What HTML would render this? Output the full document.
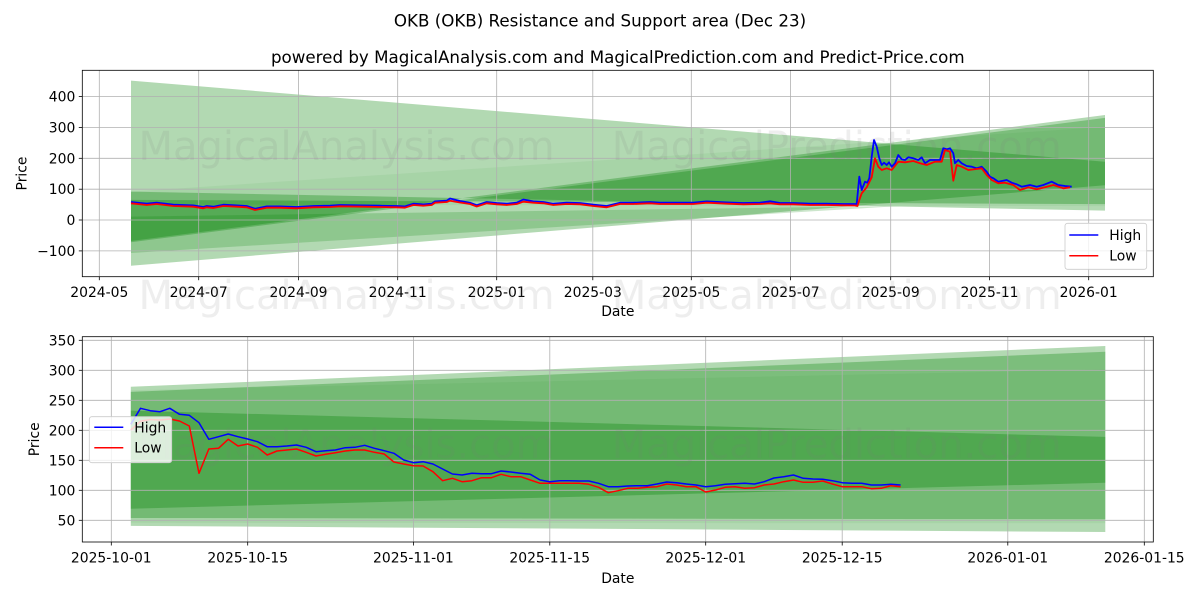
<!DOCTYPE html>
<html>
<head>
<meta charset="utf-8">
<style>
  html,body{margin:0;padding:0;background:#fff;}
  svg{display:block;}
  text{font-family:"DejaVu Sans","Liberation Sans",sans-serif;fill:#000;}
</style>
</head>
<body>
<svg width="1200" height="600" viewBox="0 0 1200 600" xmlns="http://www.w3.org/2000/svg">
  <defs>
    <clipPath id="c1"><rect x="82.3" y="70.3" width="1071" height="206.4"/></clipPath>
    <clipPath id="c2"><rect x="82.3" y="336.7" width="1071" height="205.3"/></clipPath>
  </defs>
  <rect width="1200" height="600" fill="#fff"/>

  <!-- Titles -->
  <text x="600" y="26.7" font-size="16.7" text-anchor="middle">OKB (OKB) Resistance and Support area (Dec 23)</text>
  <text x="617.8" y="63" font-size="16.7" text-anchor="middle">powered by MagicalAnalysis.com and MagicalPrediction.com and Predict-Price.com</text>

  <!-- ============ TOP CHART ============ -->
  <g clip-path="url(#c1)">
    <g fill="#008000" fill-opacity="0.3">
      <polygon points="131,80.6 1105,161.7 1105,185.2 131,265.7"/>
      <polygon points="131,241 1105,115 1105,210.6 131,191.6"/>
      <polygon points="131,242.2 1105,117.9 1105,204.1 131,199.9"/>
    </g>
    <polygon fill="#008000" fill-opacity="0.2" points="131,216.6 900,206 131,253"/>
    <polygon fill="#008000" fill-opacity="0.06" points="131,191.6 1105,126.9 1105,206.1 131,204.6"/>
    <!-- grid -->
    <g stroke="#b0b0b0" stroke-width="0.8">
      <line x1="99.3" y1="70.3" x2="99.3" y2="276.7"/>
      <line x1="198.7" y1="70.3" x2="198.7" y2="276.7"/>
      <line x1="298.5" y1="70.3" x2="298.5" y2="276.7"/>
      <line x1="397.7" y1="70.3" x2="397.7" y2="276.7"/>
      <line x1="496.7" y1="70.3" x2="496.7" y2="276.7"/>
      <line x1="592.8" y1="70.3" x2="592.8" y2="276.7"/>
      <line x1="691.3" y1="70.3" x2="691.3" y2="276.7"/>
      <line x1="790.6" y1="70.3" x2="790.6" y2="276.7"/>
      <line x1="890.7" y1="70.3" x2="890.7" y2="276.7"/>
      <line x1="989.5" y1="70.3" x2="989.5" y2="276.7"/>
      <line x1="1088.7" y1="70.3" x2="1088.7" y2="276.7"/>
      <line x1="82.3" y1="96.6" x2="1153.3" y2="96.6"/>
      <line x1="82.3" y1="127.5" x2="1153.3" y2="127.5"/>
      <line x1="82.3" y1="158.3" x2="1153.3" y2="158.3"/>
      <line x1="82.3" y1="189.2" x2="1153.3" y2="189.2"/>
      <line x1="82.3" y1="220" x2="1153.3" y2="220"/>
      <line x1="82.3" y1="250.9" x2="1153.3" y2="250.9"/>
    </g>
    <!-- watermark -->
    <text x="346.5" y="160" font-size="40" text-anchor="middle" style="fill:#7f7f7f;fill-opacity:0.13">MagicalAnalysis.com</text>
    <text x="836.7" y="160" font-size="40" text-anchor="middle" style="fill:#7f7f7f;fill-opacity:0.13">MagicalPrediction.com</text>
    <!-- price lines -->
    <polyline fill="none" stroke="#0000ff" stroke-width="1.8" stroke-linejoin="round"
      points="131,202 146.7,203.7 156.7,202.7 173.3,204.7 193.3,205.4 203.3,207 206.7,206 213.3,206.7 223.3,204.7 236.7,205.4 246.7,206 255,208.7 266.7,206.4 280,206.4 296.7,207 313.3,206 330,205.7 340,205 363.3,205.4 380,205.7 396.7,206 405,206.4 413.3,203.7 423.3,204.4 431.7,203.7 435,201.4 446.7,200.7 450,198.5 460,201 470,202.7 476.7,205.2 486.7,202 496.7,203 506.7,203.7 516.7,202.7 523.3,199.5 533.3,201.4 543.3,202 553.3,203.7 566.7,202.7 580,203 593.3,204.7 606.7,206 620,202.7 633.3,202.7 650,202 660,202.7 676.7,202.7 693.3,202.7 706.7,201.4 726.7,202.4 743.3,203 760,202.7 770,201.3 780,203 793.3,203 810,203.7 826.7,203.7 843.3,204 856.7,204 859.3,176.7 861.7,190 865,181.7 867.3,182.7 869.3,178.3 871.7,156.7 874,140 876.7,146.7 879.3,158.3 881.7,165 884,162.7 886.7,165 889,162.3 891.7,166.7 895,163.3 898.3,155 901.7,159.3 905,160 908.3,157.3 913.3,158.3 918.3,160 921.7,157.3 925,163.3 930,160 936.7,160 940,160 943.3,148.3 946.7,149.3 950,148.3 953.3,153.3 955,163.3 958.3,160 961.7,163.3 966.7,166 971.7,166.7 976.7,168.3 981.7,166.7 986.7,171.7 990,176.7 993.3,178.3 998.3,181.7 1006.7,180 1011.7,182.7 1016.7,184.3 1021.7,186.7 1030,185 1036.7,186.7 1043.3,185 1051.7,181.7 1058.3,185 1065,186 1071.7,186.7"/>
    <polyline fill="none" stroke="#ff0000" stroke-width="1.8" stroke-linejoin="round"
      points="131,203.3 146.7,205 156.7,204 173.3,206 193.3,206.7 203.3,208.3 206.7,207.3 213.3,208 223.3,206 236.7,206.7 246.7,207.3 255,210 266.7,207.7 280,207.7 296.7,208.3 313.3,207.3 330,207 340,206.3 363.3,206.7 380,207 396.7,207.3 405,207.7 413.3,205 423.3,205.7 431.7,205 435,202.7 446.7,202 450,200.7 460,202.5 470,204 476.7,206.5 486.7,203.3 496.7,204.3 506.7,205 516.7,204 523.3,201.7 533.3,202.7 543.3,203.3 553.3,205 566.7,204 580,204.3 593.3,206 606.7,207.3 620,204 633.3,204 650,203.3 660,204 676.7,204 693.3,204 706.7,202.7 726.7,203.7 743.3,204.3 760,204 770,203.3 780,204.3 793.3,204.3 810,205 826.7,205 843.3,205.3 855,205.5 857.5,206 859.3,200 861.7,193.3 866.7,187.3 871.7,177.3 875,158.3 878.3,166.7 881.7,170 886.7,168.3 891.7,170 898.3,161.7 905,162.3 913.3,161 920,163.3 926.7,165 935,161.7 941.7,161.7 945,150 950,151.7 953.3,180.7 956.7,165 961.7,166.7 968.3,170 976.7,169 981.7,168.3 986.7,175 991.7,180 998.3,183.3 1005,182.7 1013.3,185 1020,190 1028.3,187.3 1036.7,189.3 1045,187.3 1053.3,185 1063.3,188.3 1070,187.3"/>
  </g>
  <!-- axes frame -->
  <rect x="82.3" y="70.3" width="1071" height="206.4" fill="none" stroke="#000" stroke-width="0.8"/>
  <!-- ticks -->
  <g stroke="#000" stroke-width="0.8">
    <line x1="78.8" y1="96.6" x2="82.3" y2="96.6"/>
    <line x1="78.8" y1="127.5" x2="82.3" y2="127.5"/>
    <line x1="78.8" y1="158.3" x2="82.3" y2="158.3"/>
    <line x1="78.8" y1="189.2" x2="82.3" y2="189.2"/>
    <line x1="78.8" y1="220" x2="82.3" y2="220"/>
    <line x1="78.8" y1="250.9" x2="82.3" y2="250.9"/>
    <line x1="99.3" y1="276.7" x2="99.3" y2="280.2"/>
    <line x1="198.7" y1="276.7" x2="198.7" y2="280.2"/>
    <line x1="298.5" y1="276.7" x2="298.5" y2="280.2"/>
    <line x1="397.7" y1="276.7" x2="397.7" y2="280.2"/>
    <line x1="496.7" y1="276.7" x2="496.7" y2="280.2"/>
    <line x1="592.8" y1="276.7" x2="592.8" y2="280.2"/>
    <line x1="691.3" y1="276.7" x2="691.3" y2="280.2"/>
    <line x1="790.6" y1="276.7" x2="790.6" y2="280.2"/>
    <line x1="890.7" y1="276.7" x2="890.7" y2="280.2"/>
    <line x1="989.5" y1="276.7" x2="989.5" y2="280.2"/>
    <line x1="1088.7" y1="276.7" x2="1088.7" y2="280.2"/>
  </g>
  <g font-size="13.9" text-anchor="end">
    <text x="75.3" y="101.6">400</text>
    <text x="75.3" y="132.5">300</text>
    <text x="75.3" y="163.3">200</text>
    <text x="75.3" y="194.2">100</text>
    <text x="75.3" y="225">0</text>
    <text x="75.3" y="255.9">−100</text>
  </g>
  <g font-size="13.9" text-anchor="middle">
    <text x="99.3" y="297">2024-05</text>
    <text x="198.7" y="297">2024-07</text>
    <text x="298.5" y="297">2024-09</text>
    <text x="397.7" y="297">2024-11</text>
    <text x="496.7" y="297">2025-01</text>
    <text x="592.8" y="297">2025-03</text>
    <text x="691.3" y="297">2025-05</text>
    <text x="790.6" y="297">2025-07</text>
    <text x="890.7" y="297">2025-09</text>
    <text x="989.5" y="297">2025-11</text>
    <text x="1088.7" y="297">2026-01</text>
    <text x="617.8" y="316">Date</text>
  </g>
  <text font-size="13.9" text-anchor="middle" transform="translate(26.5,173.5) rotate(-90)">Price</text>
  <!-- legend top -->
  <rect x="1065" y="223.3" width="81.7" height="46" rx="2.5" fill="#fff" fill-opacity="0.8" stroke="#cccccc" stroke-width="0.8"/>
  <line x1="1069.3" y1="235" x2="1098.3" y2="235" stroke="#0000ff" stroke-width="1.5"/>
  <line x1="1069.3" y1="255.7" x2="1098.3" y2="255.7" stroke="#ff0000" stroke-width="1.5"/>
  <text x="1109.3" y="240" font-size="13.9">High</text>
  <text x="1109.3" y="260.7" font-size="13.9">Low</text>

  <!-- middle watermark -->
  <text x="346.5" y="309" font-size="40" text-anchor="middle" style="fill:#7f7f7f;fill-opacity:0.13">MagicalAnalysis.com</text>
  <text x="836.7" y="309" font-size="40" text-anchor="middle" style="fill:#7f7f7f;fill-opacity:0.13">MagicalPrediction.com</text>

  <!-- ============ BOTTOM CHART ============ -->
  <g clip-path="url(#c2)">
    <g fill="#008000" fill-opacity="0.3">
      <polygon points="130.8,410.6 1105.3,436.9 1105.3,482.7 130.8,508.7"/>
      <polygon points="130.8,386.8 1105.3,346 1105.3,532 130.8,525.9"/>
      <polygon points="130.8,391.9 1105.3,351.7 1105.3,519.3 130.8,518"/>
    </g>
    <polygon fill="#008000" fill-opacity="0.06" points="130.8,390.2 1105.3,369.3 1105.3,523.3 130.8,522.8"/>
    <g stroke="#b0b0b0" stroke-width="0.8">
      <line x1="111.3" y1="336.7" x2="111.3" y2="542"/>
      <line x1="247.7" y1="336.7" x2="247.7" y2="542"/>
      <line x1="413.4" y1="336.7" x2="413.4" y2="542"/>
      <line x1="549.8" y1="336.7" x2="549.8" y2="542"/>
      <line x1="705.7" y1="336.7" x2="705.7" y2="542"/>
      <line x1="842.2" y1="336.7" x2="842.2" y2="542"/>
      <line x1="1007.8" y1="336.7" x2="1007.8" y2="542"/>
      <line x1="1144.3" y1="336.7" x2="1144.3" y2="542"/>
      <line x1="82.3" y1="340.3" x2="1153.3" y2="340.3"/>
      <line x1="82.3" y1="370.3" x2="1153.3" y2="370.3"/>
      <line x1="82.3" y1="400.3" x2="1153.3" y2="400.3"/>
      <line x1="82.3" y1="430.3" x2="1153.3" y2="430.3"/>
      <line x1="82.3" y1="460.3" x2="1153.3" y2="460.3"/>
      <line x1="82.3" y1="490.3" x2="1153.3" y2="490.3"/>
      <line x1="82.3" y1="520.3" x2="1153.3" y2="520.3"/>
    </g>
    <text x="346.5" y="458" font-size="40" text-anchor="middle" style="fill:#7f7f7f;fill-opacity:0.13">MagicalAnalysis.com</text>
    <text x="836.7" y="458" font-size="40" text-anchor="middle" style="fill:#7f7f7f;fill-opacity:0.13">MagicalPrediction.com</text>
    <polyline fill="none" stroke="#0000ff" stroke-width="1.5" stroke-linejoin="round"
      points="130.8,424.3 140.5,408.3 150.3,410.7 160,411.7 169.8,408.3 179.5,414.3 189.3,415.3 199,422.7 208.8,439.3 218.5,436.7 228.2,434 238,436.7 247.7,439 257.5,441.7 267.2,446.7 277,446.7 286.7,446 296.5,445 306.2,447.3 316,451.7 325.7,450.7 335.4,450 345.2,447.7 354.9,447.3 364.7,445.3 374.4,448.3 384.2,450.7 393.9,453.3 403.7,460 413.4,462.7 423.1,461.7 432.9,464 442.6,469 452.4,474 462.1,475 471.9,473.3 481.6,473.7 491.4,473.7 501.1,471 510.8,472 520.6,473.3 530.3,474.3 540.1,480 549.8,481.7 559.6,480.7 569.3,480.7 579.1,481 588.8,481 598.6,483.3 608.3,486.7 618,486.7 627.8,486 637.5,485.7 647.3,485.7 657,484 666.8,482 676.5,482.7 686.3,484 696,485 705.7,486.7 715.5,485.7 725.2,484.3 735,483.7 744.7,483.3 754.5,484 764.2,481.7 774,478 783.7,476.7 793.5,475 803.2,478.3 812.9,479 822.7,479.3 832.4,480.7 842.2,482.7 851.9,483.3 861.7,483.3 871.4,485 881.2,485 890.9,484.3 900.6,485"/>
    <polyline fill="none" stroke="#ff0000" stroke-width="1.5" stroke-linejoin="round"
      points="130.8,430 140.5,421.3 150.3,419.5 160,420 169.8,419 179.5,421 189.3,426 199,473.3 208.8,449 218.5,448.3 228.2,439.3 238,446 247.7,444 257.5,447.3 267.2,455 277,451 286.7,450 296.5,449 306.2,452.3 316,456 325.7,454.3 335.4,452.7 345.2,451 354.9,450 364.7,450 374.4,452.3 384.2,454 393.9,462 403.7,464 413.4,465.7 423.1,466 432.9,471.7 442.6,480.7 452.4,478.3 462.1,481.7 471.9,480.7 481.6,477.7 491.4,477.7 501.1,474.3 510.8,476.7 520.6,476.7 530.3,480 540.1,483.3 549.8,483.3 559.6,483.3 569.3,483.3 579.1,483.3 588.8,484.3 598.6,487.3 608.3,492.7 618,490.7 627.8,488.3 637.5,488.3 647.3,487.3 657,486.7 666.8,484 676.5,485 686.3,486.7 696,486.7 705.7,492 715.5,490 725.2,487.3 735,486.7 744.7,488.3 754.5,487.7 764.2,485 774,484 783.7,481.7 793.5,480 803.2,482.3 812.9,482.3 822.7,481 832.4,484 842.2,486.7 851.9,486.7 861.7,486.7 871.4,488.7 881.2,488.3 890.9,485.7 900.6,486.7"/>
  </g>
  <rect x="82.3" y="336.7" width="1071" height="205.3" fill="none" stroke="#000" stroke-width="0.8"/>
  <g stroke="#000" stroke-width="0.8">
    <line x1="78.8" y1="340.3" x2="82.3" y2="340.3"/>
    <line x1="78.8" y1="370.3" x2="82.3" y2="370.3"/>
    <line x1="78.8" y1="400.3" x2="82.3" y2="400.3"/>
    <line x1="78.8" y1="430.3" x2="82.3" y2="430.3"/>
    <line x1="78.8" y1="460.3" x2="82.3" y2="460.3"/>
    <line x1="78.8" y1="490.3" x2="82.3" y2="490.3"/>
    <line x1="78.8" y1="520.3" x2="82.3" y2="520.3"/>
    <line x1="111.3" y1="542" x2="111.3" y2="545.5"/>
    <line x1="247.7" y1="542" x2="247.7" y2="545.5"/>
    <line x1="413.4" y1="542" x2="413.4" y2="545.5"/>
    <line x1="549.8" y1="542" x2="549.8" y2="545.5"/>
    <line x1="705.7" y1="542" x2="705.7" y2="545.5"/>
    <line x1="842.2" y1="542" x2="842.2" y2="545.5"/>
    <line x1="1007.8" y1="542" x2="1007.8" y2="545.5"/>
    <line x1="1144.3" y1="542" x2="1144.3" y2="545.5"/>
  </g>
  <g font-size="13.9" text-anchor="end">
    <text x="75.3" y="345.3">350</text>
    <text x="75.3" y="375.3">300</text>
    <text x="75.3" y="405.3">250</text>
    <text x="75.3" y="435.3">200</text>
    <text x="75.3" y="465.3">150</text>
    <text x="75.3" y="495.3">100</text>
    <text x="75.3" y="525.3">50</text>
  </g>
  <g font-size="13.9" text-anchor="middle">
    <text x="111.3" y="562.5">2025-10-01</text>
    <text x="247.7" y="562.5">2025-10-15</text>
    <text x="413.4" y="562.5">2025-11-01</text>
    <text x="549.8" y="562.5">2025-11-15</text>
    <text x="705.7" y="562.5">2025-12-01</text>
    <text x="842.2" y="562.5">2025-12-15</text>
    <text x="1007.8" y="562.5">2026-01-01</text>
    <text x="1144.3" y="562.5">2026-01-15</text>
    <text x="617.8" y="583">Date</text>
  </g>
  <text font-size="13.9" text-anchor="middle" transform="translate(38.8,439.3) rotate(-90)">Price</text>
  <!-- legend bottom -->
  <rect x="89.3" y="416.7" width="82.4" height="46" rx="2.5" fill="#fff" fill-opacity="0.8" stroke="#cccccc" stroke-width="0.8"/>
  <line x1="94.3" y1="427.3" x2="123.3" y2="427.3" stroke="#0000ff" stroke-width="1.5"/>
  <line x1="94.3" y1="447.7" x2="123.3" y2="447.7" stroke="#ff0000" stroke-width="1.5"/>
  <text x="134.3" y="432.3" font-size="13.9">High</text>
  <text x="134.3" y="452.7" font-size="13.9">Low</text>
</svg>
</body>
</html>
